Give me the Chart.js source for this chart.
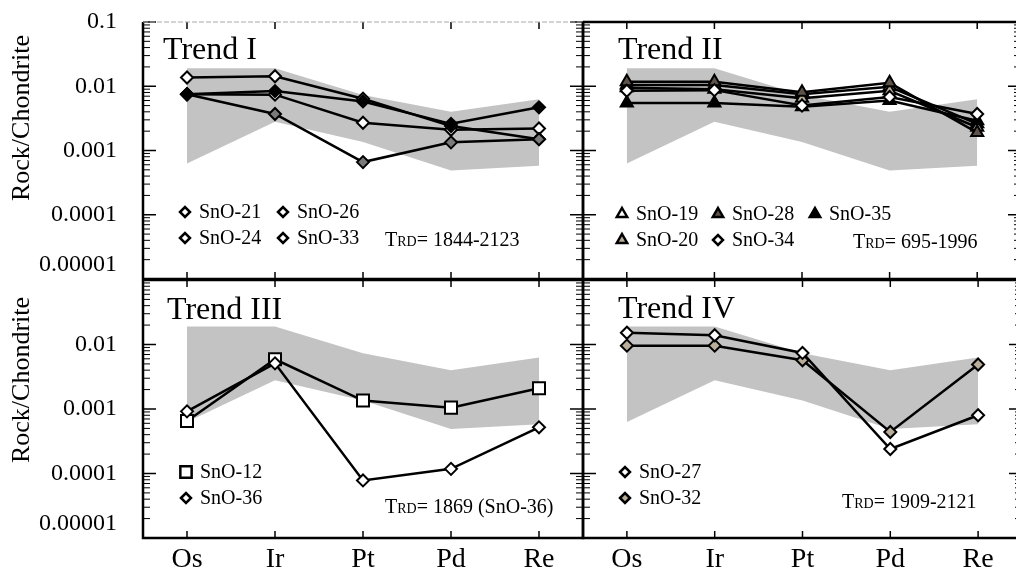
<!DOCTYPE html>
<html>
<head>
<meta charset="utf-8">
<title>Rock/Chondrite trends</title>
<script src="https://cdn.jsdelivr.net/npm/chart.js@4.4.1/dist/chart.umd.min.js"></script>
<style>
    html, body { margin: 0; padding: 0; background: #fff; overflow: hidden; width: 1016px; height: 581px; }
    canvas { position: absolute; left: 0; top: 0; }
</style>
</head>
<body>
<canvas id="trend1" width="1030" height="581"></canvas>
<canvas id="trend2" width="1030" height="581"></canvas>
<canvas id="trend3" width="1030" height="581"></canvas>
<canvas id="trend4" width="1030" height="581"></canvas>
<script>
/* ── Data ──────────────────────────────────────────────────────────────── */
const categories  = ['Os', 'Ir', 'Pt', 'Pd', 'Re'];
const yTicks      = [0.00001, 0.0001, 0.001, 0.01, 0.1];
const yTickLabels = ['0.00001', '0.0001', '0.001', '0.01', '0.1'];

// grey reference field (same in every panel)
const bandUpper = [0.019, 0.019, 0.0073, 0.0040, 0.0063];
const bandLower = [0.00063, 0.0028, 0.00136, 0.00049, 0.00058];

// Trend I
const sno21 = [0.0137, 0.0143, 0.0064, 0.0024, 0.0015];
const sno24 = [0.0075, 0.0074, 0.0027, 0.0021, 0.0022];
const sno26 = [0.0075, 0.0084, 0.0058, 0.0026, 0.0047];
const sno33 = [0.0075, 0.0037, 0.00066, 0.00134, 0.0015];

// Trend II
const sno19 = [0.0105, 0.0105, 0.0075, 0.0098, 0.0026];
const sno20 = [0.0095, 0.0090, 0.0065, 0.0085, 0.0023];
const sno28 = [0.0117, 0.0117, 0.0081, 0.0113, 0.0019];
const sno35 = [0.0055, 0.0055, 0.0048, 0.0060, 0.0029];
const sno34 = [0.0085, 0.0087, 0.0050, 0.0068, 0.0037];

// Trend III
const sno12 = [0.00065, 0.0059, 0.00135, 0.00105, 0.0021];
const sno36 = [0.00092, 0.0051, 0.000078, 0.000118, 0.00052];

// Trend IV
const sno27 = [0.0152, 0.0139, 0.0074, 0.00024, 0.0008];
const sno32 = [0.0096, 0.0096, 0.0057, 0.00044, 0.0049];

/* ── Styling helpers ───────────────────────────────────────────────────── */
const SERIF = '"Liberation Serif", "DejaVu Serif", serif';
const BAND  = '#c3c3c3';
const TAN   = '#b8ae9a';
const DARK  = '#5c5249';
const GREY  = '#7a7a7a';

Chart.defaults.font.family = SERIF;
Chart.defaults.color = '#000';

function series(label, data, style, fill, r) {
    return {
        label, data,
        borderColor: '#000', borderWidth: 2.5, tension: 0, fill: false,
        pointStyle: style, pointRadius: r, pointHoverRadius: r,
        pointBackgroundColor: fill, pointBorderColor: '#000', pointBorderWidth: 2,
    };
}

function bandSets() {
    return [
        { data: bandUpper, fill: '+1', backgroundColor: BAND, borderColor: 'rgba(0,0,0,0)', borderWidth: 0, pointRadius: 0 },
        { data: bandLower, fill: false, borderColor: 'rgba(0,0,0,0)', borderWidth: 0, pointRadius: 0 },
    ];
}

function drawMarker(ctx, style, x, y, r, fill) {
    ctx.beginPath();
    if (style === 'rectRot') {
        ctx.moveTo(x - r, y); ctx.lineTo(x, y - r); ctx.lineTo(x + r, y); ctx.lineTo(x, y + r);
    } else if (style === 'triangle') {
        ctx.moveTo(x, y - r);
        ctx.lineTo(x + r * 0.866, y + r * 0.5);
        ctx.lineTo(x - r * 0.866, y + r * 0.5);
    } else {
        const s = r * 0.707;
        ctx.rect(x - s, y - s, 2 * s, 2 * s);
    }
    ctx.closePath();
    ctx.fillStyle = fill;
    ctx.fill();
    ctx.lineWidth = 2.5;
    ctx.strokeStyle = '#000';
    ctx.stroke();
}

function line(ctx, x1, y1, x2, y2) {
    ctx.beginPath(); ctx.moveTo(x1, y1); ctx.lineTo(x2, y2); ctx.stroke();
}

// frame, inner ticks, title, legend and T(RD) note for one panel
function decor(p) {
    return {
        id: 'decor',
        afterDraw(chart) {
            const ctx = chart.ctx, a = chart.chartArea;
            const xs = chart.scales.x, ys = chart.scales.y;
            ctx.save();
            ctx.strokeStyle = '#000';

            // x ticks, top and bottom, pointing in
            ctx.lineWidth = 1.5;
            categories.forEach((c, i) => {
                const px = xs.getPixelForValue(i);
                line(ctx, px, a.top, px, a.top + 7);
                line(ctx, px, a.bottom, px, a.bottom - 7);
            });

            // y ticks: decades long, 2..9 short, on both edges
            for (let d = 0; d < yTicks.length; d++) {
                const py = ys.getPixelForValue(yTicks[d]);
                ctx.lineWidth = 1.5;
                line(ctx, a.left, py, a.left + 13, py);
                line(ctx, a.right, py, a.right - 13, py);
                if (d === yTicks.length - 1) break;
                ctx.lineWidth = 1;
                for (let k = 2; k <= 9; k++) {
                    const my = ys.getPixelForValue(yTicks[d] * k);
                    line(ctx, a.left, my, a.left + 7, my);
                    line(ctx, a.right, my, a.right - 7, my);
                }
            }

            // frame
            ctx.lineWidth = 2.5;
            ctx.beginPath();
            ctx.moveTo(a.left, a.top); ctx.lineTo(a.left, a.bottom);
            ctx.lineTo(a.right, a.bottom); ctx.lineTo(a.right, a.top);
            if (!p.fadedTop) ctx.lineTo(a.left, a.top);
            ctx.stroke();
            if (p.fadedTop) {
                ctx.save();
                ctx.strokeStyle = '#aaa'; ctx.lineWidth = 1; ctx.setLineDash([5, 2]);
                line(ctx, a.left, a.top, a.right, a.top);
                ctx.restore();
            }

            // title
            ctx.fillStyle = '#000';
            ctx.textBaseline = 'alphabetic';
            ctx.textAlign = 'left';
            ctx.font = '32px ' + SERIF;
            ctx.fillText(p.title, p.titleX, p.titleY);

            // legend
            ctx.font = '20px ' + SERIF;
            ctx.textBaseline = 'middle';
            p.legend.forEach(it => {
                drawMarker(ctx, it.style, it.x, it.y, it.r, it.fill);
                ctx.fillStyle = '#000';
                ctx.fillText(it.label, it.x + 14, it.y + 1);
            });

            // T(RD) note
            ctx.textBaseline = 'alphabetic';
            let tx = p.trdX;
            ctx.font = '20px ' + SERIF;
            ctx.fillText('T', tx, p.trdY);
            tx += ctx.measureText('T').width;
            ctx.font = '14px ' + SERIF;
            ctx.fillText('RD', tx, p.trdY);
            tx += ctx.measureText('RD').width;
            ctx.font = '20px ' + SERIF;
            ctx.fillText('= ' + p.trd, tx, p.trdY);

            // y axis title
            if (p.yTitleY) {
                ctx.save();
                ctx.translate(22, p.yTitleY);
                ctx.rotate(-Math.PI / 2);
                ctx.textAlign = 'center';
                ctx.textBaseline = 'middle';
                ctx.font = '26px ' + SERIF;
                ctx.fillText('Rock/Chondrite', 0, 0);
                ctx.restore();
            }
            ctx.restore();
        }
    };
}

function panel(id, p) {
    return new Chart(document.getElementById(id), {
        type: 'line',
        data: { labels: categories, datasets: p.datasets.concat(bandSets()) },
        options: {
            responsive: false,
            animation: false,
            events: [],
            layout: { padding: p.padding },
            plugins: { legend: { display: false }, tooltip: { enabled: false } },
            scales: {
                x: {
                    type: 'category',
                    offset: true,
                    display: p.showX,
                    grid: { display: false, drawTicks: false },
                    border: { display: false },
                    ticks: { font: { size: 28 }, color: '#000', padding: 5, maxRotation: 0, autoSkip: false },
                    afterFit(s) {
                        s.height = p.showX ? 43 : 0;
                        s.paddingLeft = 0; s.paddingRight = 0;
                    }
                },
                y: {
                    type: 'logarithmic',
                    min: 0.00001,
                    max: 0.1,
                    display: p.showY,
                    grid: { display: false, drawTicks: false },
                    border: { display: false },
                    afterBuildTicks(s) { s.ticks = yTicks.map(v => ({ value: v })); },
                    ticks: {
                        font: { size: 24 }, color: '#000', padding: 26, autoSkip: false,
                        callback: (v, i) => p.yLabel(i)
                    },
                    afterFit(s) {
                        s.width = p.showY ? 143 : 0;
                        s.paddingTop = 0; s.paddingBottom = 0;
                    }
                }
            }
        },
        plugins: [decor(p)]
    });
}

/* ── Panels ────────────────────────────────────────────────────────────── */
const W = 1030, H = 581;

panel('trend1', {
    padding: { left: 0, right: W - 583, top: 22, bottom: H - 279 },
    showX: false, showY: true, fadedTop: true,
    yLabel: i => i === 0 ? [yTickLabels[0], ''] : yTickLabels[i],
    datasets: [
        series('SnO-26', sno26, 'rectRot', '#000', 6),
        series('SnO-33', sno33, 'rectRot', GREY, 6),
        series('SnO-21', sno21, 'rectRot', '#fff', 6),
        series('SnO-24', sno24, 'rectRot', '#fff', 6),
    ],
    title: 'Trend I', titleX: 163, titleY: 59,
    legend: [
        { label: 'SnO-21', style: 'rectRot', fill: '#fff', r: 5, x: 185, y: 212 },
        { label: 'SnO-26', style: 'rectRot', fill: '#fff', r: 5, x: 283, y: 212 },
        { label: 'SnO-24', style: 'rectRot', fill: '#fff', r: 5, x: 185, y: 238 },
        { label: 'SnO-33', style: 'rectRot', fill: '#fff', r: 5, x: 283, y: 238 },
    ],
    trd: '1844-2123', trdX: 385, trdY: 246,
    yTitleY: 118,
});

panel('trend2', {
    padding: { left: 583, right: W - 1022, top: 22, bottom: H - 279 },
    showX: false, showY: false,
    yLabel: i => yTickLabels[i],
    datasets: [
        series('SnO-34', sno34, 'rectRot', '#fff', 6),
        series('SnO-35', sno35, 'triangle', '#000', 7),
        series('SnO-28', sno28, 'triangle', DARK, 7),
        series('SnO-20', sno20, 'triangle', TAN, 7),
        series('SnO-19', sno19, 'triangle', '#fff', 7),
    ],
    title: 'Trend II', titleX: 618, titleY: 59,
    legend: [
        { label: 'SnO-19', style: 'triangle', fill: '#fff', r: 6, x: 622, y: 214 },
        { label: 'SnO-28', style: 'triangle', fill: DARK, r: 6, x: 718, y: 214 },
        { label: 'SnO-35', style: 'triangle', fill: '#000', r: 6, x: 815, y: 214 },
        { label: 'SnO-20', style: 'triangle', fill: TAN, r: 6, x: 622, y: 240 },
        { label: 'SnO-34', style: 'rectRot', fill: '#fff', r: 5, x: 718, y: 240 },
    ],
    trd: '695-1996', trdX: 853, trdY: 248,
});

panel('trend3', {
    padding: { left: 0, right: W - 583, top: 280, bottom: 0 },
    showX: true, showY: true,
    yLabel: i => i === 4 ? '' : (i === 0 ? [yTickLabels[0], ''] : yTickLabels[i]),
    datasets: [
        series('SnO-36', sno36, 'rectRot', '#fff', 6),
        series('SnO-12', sno12, 'rect', '#fff', 8.5),
    ],
    title: 'Trend III', titleX: 167, titleY: 319,
    legend: [
        { label: 'SnO-12', style: 'rect', fill: '#fff', r: 8, x: 186, y: 472 },
        { label: 'SnO-36', style: 'rectRot', fill: '#fff', r: 5, x: 186, y: 498 },
    ],
    trd: '1869 (SnO-36)', trdX: 385, trdY: 513,
    yTitleY: 380,
});

panel('trend4', {
    padding: { left: 583, right: W - 1022, top: 280, bottom: 0 },
    showX: true, showY: false,
    yLabel: i => yTickLabels[i],
    datasets: [
        series('SnO-27', sno27, 'rectRot', '#fff', 6),
        series('SnO-32', sno32, 'rectRot', TAN, 6),
    ],
    title: 'Trend IV', titleX: 618, titleY: 318,
    legend: [
        { label: 'SnO-27', style: 'rectRot', fill: '#fff', r: 5, x: 625, y: 472 },
        { label: 'SnO-32', style: 'rectRot', fill: TAN, r: 5, x: 625, y: 498 },
    ],
    trd: '1909-2121', trdX: 842, trdY: 508,
});
</script>
</body>
</html>
